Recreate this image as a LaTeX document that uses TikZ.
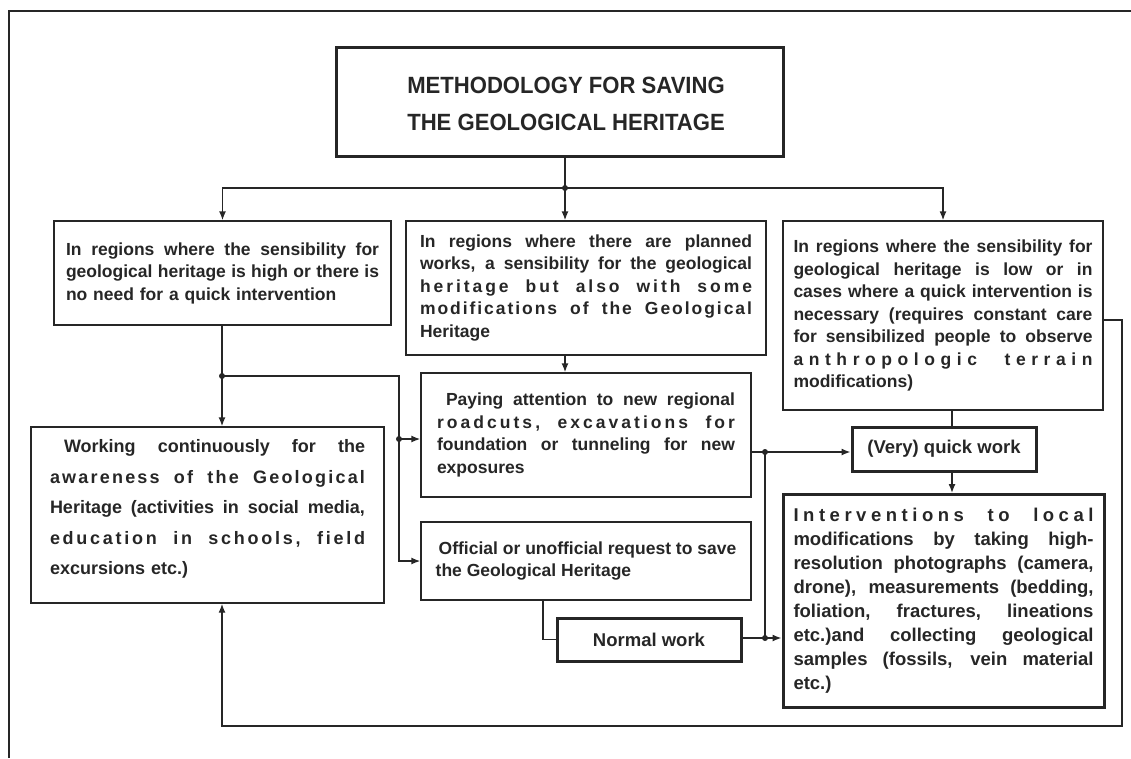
\documentclass[tikz,border=0pt]{standalone}
\usepackage{fontspec}
\setmainfont{Liberation Sans}
\newfontfamily\titlefont{Liberation Sans}[FakeStretch=0.94]
\usetikzlibrary{arrows.meta}
\definecolor{ink}{HTML}{262626}
\newcommand\J[1]{\makebox[\linewidth][s]{\spaceskip=0pt\xspaceskip=0pt\relax #1}}
\def\lsA#1{\ifx#1\relax\else#1\hskip0pt plus1fil\relax\expandafter\lsA\fi}
\newcommand\LS[1]{\lsA#1\relax\unskip}
\newcommand\WS{\hskip 0.3em plus 4fil\relax}
\newcommand\SP[1]{\leavevmode\hbox to\linewidth{#1}}
\tikzset{
  box/.style={draw=ink, line width=1.4pt, inner sep=0pt, text=ink, align=left,
    font=\fontsize{17.5}{22.5}\selectfont\bfseries},
  tbox/.style={box, line width=3pt},
  txt/.style={inner sep=0pt, text=ink, align=left},
  arr/.style={-{Latex[length=9pt,width=7pt]}},
}
\begin{document}
\begin{tikzpicture}[x=1pt,y=-1pt,line width=1.4pt,color=ink]
\useasboundingbox (0,0) rectangle (1131,758);
\draw (9,758) -- (9,11) -- (1131,11);

\node[tbox, minimum width=447pt, minimum height=109pt] (title) at (559.5,101.5) {};
\node[txt, align=center, font=\titlefont\fontsize{23.5}{37}\selectfont\bfseries] (titlet)
  at ([xshift=6.5pt,yshift=-2pt]title.center)
  {METHODOLOGY FOR SAVING\\THE GEOLOGICAL HERITAGE};

\node[box, minimum width=337pt, minimum height=104pt, text width=313pt] (b1) at (222.5,273)
  {\J{In regions where the sensibility for}\\
   \J{geological heritage is high or there is}\\
   no need for a quick  intervention};

\node[box, minimum width=360pt, minimum height=134pt, text width=332pt] (b2) at (586,288)
  {\J{In regions where there are planned}\\
   \J{works, a sensibility for the geological}\\
   \SP{\LS{heritage}\WS\LS{but}\WS\LS{also}\WS\LS{with}\WS\LS{some}}\\
   \SP{\LS{modifications}\WS\LS{of}\WS\LS{the}\WS\LS{Geological}}\\
   Heritage};

\node[box, minimum width=320pt, minimum height=189pt, text width=299pt] (b3) at (943,315.5)
  {\J{In regions where the sensibility for}\\
   \J{geological heritage is low or in}\\
   \J{cases where a quick intervention is}\\
   \J{necessary (requires constant care}\\
   \J{for sensibilized people to observe}\\
   \SP{\LS{anthropologic}\WS\LS{terrain}}\\
   modifications)};

\node[box, minimum width=353pt, minimum height=176pt] (wk) at (207.5,515) {};
\node[txt, text width=315pt, font=\fontsize{18}{30.5}\selectfont\bfseries] (wkt)
  at ([yshift=6pt]wk.center)
  {\J{\hspace{14pt}Working continuously for the}\\
   \SP{\LS{awareness}\WS\LS{of}\WS\LS{the}\WS\LS{Geological}}\\
   \J{Heritage (activities in social media,}\\
   \SP{\LS{education}\WS\LS{in}\WS\LS{schools,}\WS\LS{field}}\\
   excursions etc.)};

\node[box, minimum width=330pt, minimum height=124pt, text width=298pt] (pa) at (586,435)
  {\J{\hspace{9pt}Paying attention to new regional}\\
   \SP{\LS{roadcuts,}\WS\LS{excavations}\WS\LS{for}}\\
   \J{foundation or tunneling for new}\\
   exposures};

\node[box, minimum width=330pt, minimum height=78pt,
  font=\fontsize{17.5}{22}\selectfont\bfseries] (of) at (586,561)
  {\hspace{3pt}Official or unofficial request to save\\the Geological Heritage};

\node[tbox, minimum width=184pt, minimum height=43pt, align=center,
  font=\fontsize{18.5}{22}\selectfont\bfseries] (nw) at (649,639.5) {Normal work};

\node[tbox, minimum width=184pt, minimum height=44pt, align=center,
  font=\fontsize{18.5}{22}\selectfont\bfseries] (vq) at (944,449) {(Very) quick work};

\node[tbox, minimum width=321pt, minimum height=213pt, text width=300pt,
  font=\fontsize{18.5}{24}\selectfont\bfseries] (iv) at (943.5,601)
  {\SP{\LS{Interventions}\WS\LS{to}\WS\LS{local}}\\
   \J{modifications by taking high-}\\
   \J{resolution photographs (camera,}\\
   \J{drone), measurements (bedding,}\\
   \J{foliation, fractures, lineations}\\
   \J{etc.)and collecting geological}\\
   \J{samples (fossils, vein material}\\
   etc.)};

\coordinate (j0) at (565,188);
\coordinate (j1) at (222,376);
\coordinate (j2) at (399,439);
\coordinate (j3) at (765,452);
\coordinate (j4) at (765,638);
\coordinate (lp) at (1122,726);
\coordinate (qx) at (952,449);

\draw (title.south -| j0) -- (j0);
\draw[arr] (j0) -| (b1.north);
\draw[arr] (j0) -- (j0 |- b2.north);
\draw[arr] (j0) -| (b3.north);
\draw (b1.south -| j1) -- (j1);
\draw[arr] (j1) -- (j1 |- wk.north);
\draw (j1) -| (j2);
\draw[arr] (j2) -- (j2 -| pa.west);
\draw[arr] (j2) |- (of.west);
\draw[arr] (b2.south -| j0) -- (pa.north -| j0);
\draw (j3 -| pa.east) -- (j3);
\draw[arr] (j3) -- (j3 -| vq.west);
\draw (j3) -- (j4);
\draw[arr] (j4) -- (j4 -| iv.west);
\draw (nw.east |- j4) -- (j4);
\draw ([xshift=-43pt]of.south) |- (nw.west);
\draw (b3.south -| qx) -- (vq.north -| qx);
\draw[arr] (vq.south -| qx) -- (iv.north -| qx);
\draw[arr] ([yshift=-4.5pt]b3.east) -| (lp) -| (j1 |- wk.south);

\foreach \p in {j0,j1,j2,j3,j4} \fill (\p) circle (3pt);
\end{tikzpicture}
\end{document}
